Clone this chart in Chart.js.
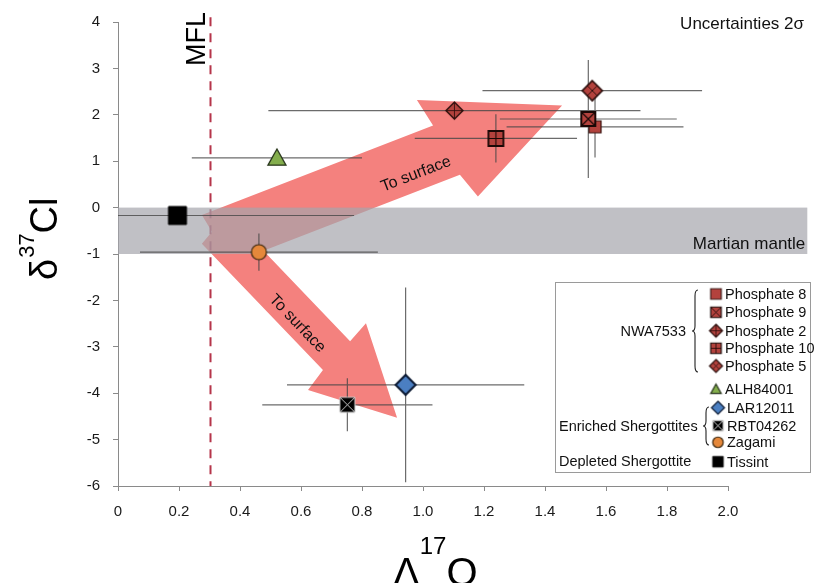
<!DOCTYPE html>
<html>
<head>
<meta charset="utf-8">
<script src="https://cdn.jsdelivr.net/npm/chart.js@4/dist/chart.umd.min.js"></script>
<style>
  html, body { margin: 0; padding: 0; background: #fff; }
  #wrap { width: 817px; height: 583px; }
</style>
</head>
<body>
<div id="wrap"><canvas id="chart"></canvas></div>
<script>
// samples (legend order)
const sampleNames = ['Phosphate 8', 'Phosphate 9', 'Phosphate 2', 'Phosphate 10', 'Phosphate 5',
  'ALH84001', 'LAR12011', 'RBT04262', 'Zagami', 'Tissint'];
// Δ17O and δ37Cl
const d17O = [1.564, 1.542, 1.103, 1.239, 1.555, 0.521, 0.943, 0.752, 0.462, 0.195];
const d37Cl = [1.74, 1.91, 2.09, 1.49, 2.52, 1.07, -3.82, -4.25, -0.96, -0.17];
// 2 sigma uncertainties
const d17OErr = [0.29, 0.29, 0.61, 0.266, 0.36, 0.279, 0.389, 0.279, 0.39, 0.579];
const d37ClErr = [0.66, 1.27, 0, 0.52, 0, 0, 2.10, 0.57, 0.40, 0];

// axis ticks
const xTicks = [0, 0.2, 0.4, 0.6, 0.8, 1.0, 1.2, 1.4, 1.6, 1.8, 2.0];
const yTicks = [4, 3, 2, 1, 0, -1, -2, -3, -4, -5, -6];

// reference lines / areas
const mflValue = 0.3;
const mantleRange = [0, -1];
const mantleRightEdge = 2.26;

// "To surface" arrows outline (data coords)
const arrowX = [0.275, 0.308, 0.275, 0.672, 0.623, 0.915, 0.813, 0.761, 0.477, 1.121, 1.180, 1.456, 0.980, 1.033];
const arrowY = [-0.16, -0.52, -0.78, -3.50, -3.93, -4.53, -2.49, -2.88, -0.93, 0.71, 0.24, 2.20, 2.32, 1.77];
const arrowLabelX = [0.977, 0.588];
const arrowLabelY = [0.72, -2.50];

const FONT = "'Liberation Sans', Arial, Helvetica, sans-serif";
const phosFill = '#b3423d';

// marker images
function marker(kind, size, fill, stroke, lw, inner) {
  const pad = 3;
  const c = document.createElement('canvas');
  c.width = c.height = Math.ceil(size + pad * 2);
  const g = c.getContext('2d');
  const m = c.width / 2, h = size / 2;
  g.fillStyle = fill; g.strokeStyle = stroke; g.lineWidth = lw;
  g.beginPath();
  if (kind.startsWith('square')) g.rect(m - h, m - h, size, size);
  else if (kind.startsWith('diamond')) {
    g.moveTo(m, m - h); g.lineTo(m + h, m); g.lineTo(m, m + h); g.lineTo(m - h, m); g.closePath();
  } else if (kind === 'triangle') {
    g.moveTo(m, m - h); g.lineTo(m + h, m + h * 0.8); g.lineTo(m - h, m + h * 0.8); g.closePath();
  } else if (kind === 'circle') g.arc(m, m, h, 0, Math.PI * 2);
  g.fill(); g.stroke();
  g.strokeStyle = inner || stroke;
  g.lineWidth = Math.max(0.8, lw * 0.6);
  g.beginPath();
  if (kind === 'squareX') {
    const k = h - lw * 0.5;
    g.moveTo(m - k, m - k); g.lineTo(m + k, m + k); g.moveTo(m + k, m - k); g.lineTo(m - k, m + k);
  }
  if (kind === 'squarePlus' || kind === 'diamondPlus') {
    g.moveTo(m, m - h); g.lineTo(m, m + h); g.moveTo(m - h, m); g.lineTo(m + h, m);
  }
  if (kind === 'diamondX') {
    const k = h / 2;
    g.moveTo(m - k, m - k); g.lineTo(m + k, m + k); g.moveTo(m + k, m - k); g.lineTo(m - k, m + k);
  }
  g.stroke();
  return c;
}

const markerSpec = [
  ['square', 12, phosFill, '#3b1512', 1.2],
  ['squareX', 14, phosFill, '#1a0806', 2],
  ['diamondPlus', 17, phosFill, '#2a0d0b', 1.4],
  ['squarePlus', 15, phosFill, '#1a0806', 1.8],
  ['diamondX', 20, phosFill, '#2a0d0b', 1.6],
  ['triangle', 18, '#84ae4d', '#26331a', 1.3],
  ['diamond', 20, '#4b7fc2', '#0c1a33', 2],
  ['squareX', 15, '#000000', '#c8c8c8', 1, '#ffffff'],
  ['circle', 15, '#e5883b', '#3a250c', 1.2],
  ['square', 18, '#000000', '#000000', 1]
];
const plotMarkers = markerSpec.map(s => marker(s[0], s[1], s[2], s[3], s[4], s[5]));
const legendMarkers = markerSpec.map(s => marker(s[0], s[0].startsWith('diamond') ? 13 : 10.5, s[2], s[3], Math.min(s[4], 1.2), s[5]));

const datasets = sampleNames.map((name, i) => ({
  label: name,
  data: [{ x: d17O[i], y: d37Cl[i] }],
  pointStyle: plotMarkers[i],
  pointRadius: 10,
  order: i === 0 ? 1 : 0
}));

function drawBrace(ctx, x, y1, y2) {
  const mid = (y1 + y2) / 2;
  ctx.beginPath();
  ctx.moveTo(x + 3, y1);
  ctx.quadraticCurveTo(x, y1, x, y1 + 6);
  ctx.lineTo(x, mid - 5);
  ctx.quadraticCurveTo(x, mid, x - 3, mid);
  ctx.quadraticCurveTo(x, mid, x, mid + 5);
  ctx.lineTo(x, y2 - 6);
  ctx.quadraticCurveTo(x, y2, x + 3, y2);
  ctx.stroke();
}

const overlay = {
  id: 'overlay',
  beforeDatasetsDraw(chart) {
    const { ctx, chartArea: ca } = chart;
    const xs = chart.scales.x, ys = chart.scales.y;
    ctx.save();
    // arrows
    ctx.fillStyle = '#f4817e';
    ctx.beginPath();
    arrowX.forEach((v, i) => {
      const px = xs.getPixelForValue(v), py = ys.getPixelForValue(arrowY[i]);
      if (i) ctx.lineTo(px, py); else ctx.moveTo(px, py);
    });
    ctx.closePath();
    ctx.fill();
    // MFL
    ctx.strokeStyle = '#b5354a';
    ctx.lineWidth = 2;
    ctx.setLineDash([9, 7]);
    ctx.beginPath();
    const mx = Math.round(xs.getPixelForValue(mflValue)) + 0.5;
    ctx.moveTo(mx, ys.getPixelForValue(4.1));
    ctx.lineTo(mx, ca.bottom);
    ctx.stroke();
    ctx.setLineDash([]);
    // Martian mantle band
    ctx.fillStyle = 'rgba(165,165,172,0.7)';
    const bx0 = xs.getPixelForValue(0), bx1 = xs.getPixelForValue(mantleRightEdge);
    const by0 = ys.getPixelForValue(mantleRange[0]), by1 = ys.getPixelForValue(mantleRange[1]);
    ctx.fillRect(bx0, by0, bx1 - bx0, by1 - by0);
    // error bars
    ctx.save();
    ctx.beginPath();
    ctx.rect(ca.left, ca.top - 20, ca.right - ca.left + 10, ca.bottom - ca.top + 20);
    ctx.clip();
    ctx.strokeStyle = 'rgba(70,70,70,0.8)';
    ctx.lineWidth = 1.2;
    ctx.beginPath();
    sampleNames.forEach((n, i) => {
      const cy = ys.getPixelForValue(d37Cl[i]), cx = xs.getPixelForValue(d17O[i]);
      if (d17OErr[i]) {
        ctx.moveTo(xs.getPixelForValue(d17O[i] - d17OErr[i]), cy);
        ctx.lineTo(xs.getPixelForValue(d17O[i] + d17OErr[i]), cy);
      }
      if (d37ClErr[i]) {
        ctx.moveTo(cx, ys.getPixelForValue(d37Cl[i] + d37ClErr[i]));
        ctx.lineTo(cx, ys.getPixelForValue(d37Cl[i] - d37ClErr[i]));
      }
    });
    ctx.stroke();
    ctx.restore();
    // arrow labels
    ctx.fillStyle = '#111';
    ctx.font = '16px ' + FONT;
    ctx.textAlign = 'center';
    ctx.textBaseline = 'middle';
    const ang = [
      Math.atan2(ys.getPixelForValue(arrowY[13]) - ys.getPixelForValue(arrowY[0]),
        xs.getPixelForValue(arrowX[13]) - xs.getPixelForValue(arrowX[0])),
      Math.atan2(ys.getPixelForValue(arrowY[3]) - ys.getPixelForValue(arrowY[2]),
        xs.getPixelForValue(arrowX[3]) - xs.getPixelForValue(arrowX[2]))
    ];
    arrowLabelX.forEach((v, i) => {
      ctx.save();
      ctx.translate(xs.getPixelForValue(v), ys.getPixelForValue(arrowLabelY[i]));
      ctx.rotate(ang[i]);
      ctx.fillText('To surface', 0, 0);
      ctx.restore();
    });
    ctx.restore();
  },
  afterDraw(chart) {
    const { ctx } = chart;
    const xs = chart.scales.x, ys = chart.scales.y;
    ctx.save();
    ctx.fillStyle = '#000';
    ctx.textBaseline = 'alphabetic';
    // y title: δ37Cl
    ctx.save();
    ctx.translate(57, 280);
    ctx.rotate(-Math.PI / 2);
    ctx.textAlign = 'left';
    let pos = 0;
    ctx.font = '38px ' + FONT;
    ctx.fillText('δ', pos, 0); pos += ctx.measureText('δ').width + 1;
    ctx.font = '22px ' + FONT;
    ctx.fillText('37', pos, -23); pos += ctx.measureText('37').width;
    ctx.font = '38px ' + FONT;
    ctx.fillText('Cl', pos, 0);
    ctx.restore();
    // x title: Δ17O
    pos = 393;
    ctx.font = '40px ' + FONT;
    ctx.fillText('Δ', pos, 586); pos += ctx.measureText('Δ').width;
    ctx.font = '24px ' + FONT;
    ctx.fillText('17', pos, 554); pos += ctx.measureText('17').width;
    ctx.font = '40px ' + FONT;
    ctx.fillText('O', pos, 586);
    // MFL label
    ctx.save();
    ctx.translate(205, 66);
    ctx.rotate(-Math.PI / 2);
    ctx.font = '27px ' + FONT;
    ctx.fillText('MFL', 0, 0);
    ctx.restore();
    // band label
    ctx.font = '17px ' + FONT;
    ctx.textAlign = 'right';
    ctx.fillStyle = '#111';
    ctx.fillText('Martian mantle', xs.getPixelForValue(mantleRightEdge) - 2,
      (ys.getPixelForValue(mantleRange[0]) + ys.getPixelForValue(mantleRange[1])) / 2 + 18);
    ctx.fillText('Uncertainties 2σ', 804, 29);
    // legend box
    const L = { left: 555, top: 282, right: 810, bottom: 472 };
    ctx.strokeStyle = '#9a9a9a';
    ctx.lineWidth = 1;
    ctx.strokeRect(L.left + 0.5, L.top + 0.5, L.right - L.left, L.bottom - L.top);
    const rowY = [294, 312.3, 330.7, 348.3, 366, 389.3, 407.7, 425.7, 442.3, 461.7];
    ctx.font = '14.5px ' + FONT;
    ctx.textAlign = 'left';
    ctx.textBaseline = 'middle';
    ctx.fillStyle = '#111';
    sampleNames.forEach((n, i) => {
      const mk = legendMarkers[i];
      const mxp = i < 6 ? 716 : 718;
      ctx.drawImage(mk, mxp - mk.width / 2, rowY[i] - mk.height / 2);
      ctx.fillText(n, mxp + 9, rowY[i] + 1);
    });
    ctx.textAlign = 'right';
    ctx.fillText('NWA7533', 686, 332);
    ctx.textAlign = 'left';
    ctx.fillText('Enriched Shergottites', 559, 426.5);
    ctx.fillText('Depleted Shergottite', 559, 461.5);
    ctx.strokeStyle = '#222';
    ctx.lineWidth = 1.1;
    drawBrace(ctx, 695, 290, 372);
    drawBrace(ctx, 706, 407, 445);
    ctx.restore();
  }
};

new Chart(document.getElementById('chart'), {
  type: 'scatter',
  data: { datasets },
  options: {
    responsive: true,
    maintainAspectRatio: false,
    animation: false,
    devicePixelRatio: 1,
    layout: { padding: { left: 0, top: 19, right: 89, bottom: 0 } },
    plugins: { legend: { display: false }, tooltip: { enabled: false } },
    scales: {
      x: {
        type: 'linear', min: 0, max: 2,
        afterFit: s => { s.height = 97; },
        afterBuildTicks: s => { s.ticks = xTicks.map(v => ({ value: v })); },
        border: { color: '#8a8a8a', width: 1 },
        grid: { display: true, drawOnChartArea: false, drawTicks: true, tickLength: 5, color: '#8a8a8a' },
        ticks: {
          padding: 12, color: '#1a1a1a', font: { family: FONT, size: 15 },
          maxRotation: 0, autoSkip: false,
          callback: v => v === 0 ? '0' : Number(v).toFixed(1)
        }
      },
      y: {
        type: 'linear', min: -6, max: 4,
        afterFit: s => { s.width = 118; },
        afterBuildTicks: s => { s.ticks = yTicks.map(v => ({ value: v })); },
        border: { color: '#8a8a8a', width: 1 },
        grid: { display: true, drawOnChartArea: false, drawTicks: true, tickLength: 5, color: '#8a8a8a' },
        ticks: {
          padding: 13, color: '#1a1a1a', font: { family: FONT, size: 15 },
          autoSkip: false,
          callback: v => String(v)
        }
      }
    }
  },
  plugins: [overlay]
});
</script>
</body>
</html>
